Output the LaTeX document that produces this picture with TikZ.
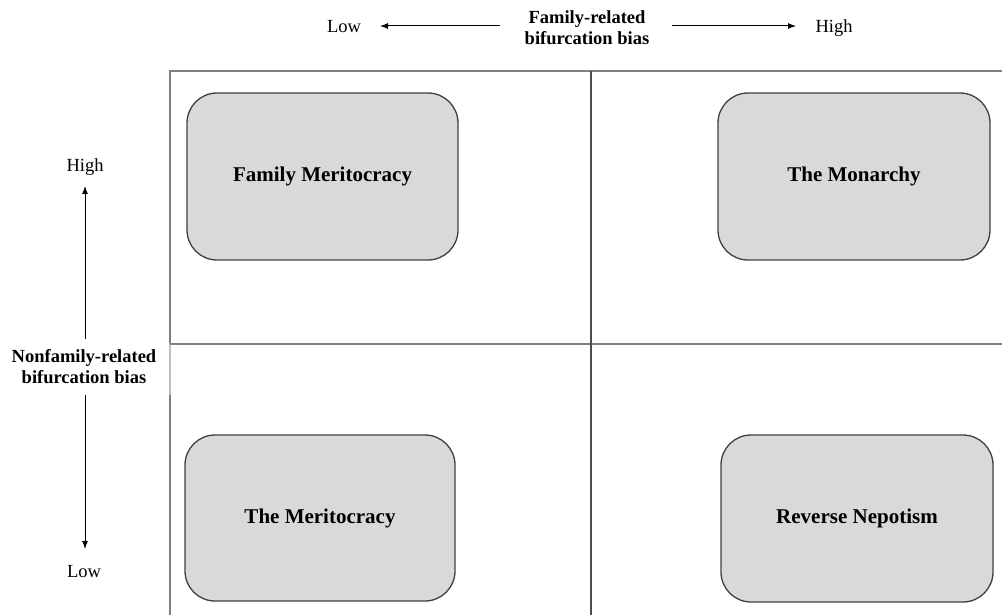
\documentclass[tikz,border=0pt]{standalone}
\usepackage{fontspec}
\setmainfont{Liberation Serif}
\usetikzlibrary{arrows.meta}
\begin{document}
\begin{tikzpicture}[x=1pt,y=-1pt,
  quad/.style={draw=black!75, line width=1.3pt, fill=black!15, rounded corners=30pt, inner sep=0pt},
  qlabel/.style={font=\fontsize{21}{25}\selectfont\bfseries},
  axlabel/.style={font=\fontsize{18.5}{22}\selectfont, inner sep=0pt},
  axtitle/.style={font=\fontsize{18.5}{21}\selectfont\bfseries, align=center, inner sep=0pt},
  grid/.style={draw=black!50, line width=2pt},
  axarrow/.style={-{Latex[length=8pt,width=6pt]}, line width=1pt, draw=black}]
\useasboundingbox (0,0) rectangle (1002,615);
% grid
\coordinate (TL) at (170,71);
\coordinate (TR) at (1002,71);
\coordinate (ML) at (170,344);
\coordinate (MR) at (1002,344);
\coordinate (MT) at (591,71);
\coordinate (MB) at (591,615);
\coordinate (G1) at (170,343);
\coordinate (G2) at (170,395);
\coordinate (BL) at (170,615);
\draw[grid] (TR) -- (TL) -- (G1);
\draw[draw=black!25, line width=1.5pt] (G1) -- (G2);
\draw[grid] (G2) -- (BL);
\draw[grid] (ML) -- (MR);
\draw[draw=black!70, line width=2pt] (MT) -- (MB);
% quadrant boxes
\node[quad, minimum width=271pt, minimum height=167pt] (fm) at (322.5,176.5) {};
\node[qlabel] at (fm.center) {Family Meritocracy};
\node[quad, minimum width=272pt, minimum height=167pt] (mon) at (854,176.5) {};
\node[qlabel] at (mon.center) {The Monarchy};
\node[quad, minimum width=270pt, minimum height=166pt] (mer) at (320,518) {};
\node[qlabel] at (mer.center) {The Meritocracy};
\node[quad, minimum width=272pt, minimum height=167pt] (rn) at (857,518.5) {};
\node[qlabel] at (rn.center) {Reverse Nepotism};
% top axis
\node[axtitle] (ttl) at (587,28) {Family-related\\bifurcation bias};
\node[axlabel] (tlow) at (344,27) {Low};
\node[axlabel] (thigh) at (834,28) {High};
\coordinate (ta1) at (500,26);
\coordinate (ta2) at (380,26);
\coordinate (ta3) at (672,26);
\coordinate (ta4) at (796,26);
\draw[axarrow] (ta1) -- (ta2);
\draw[axarrow] (ta3) -- (ta4);
% left axis
\node[axtitle] (ltl) at (84,367) {Nonfamily-related\\bifurcation bias};
\node[axlabel] (lhigh) at (85,167) {High};
\node[axlabel] (llow) at (84,572) {Low};
\coordinate (la1) at (85,339);
\coordinate (la2) at (85,186);
\coordinate (la3) at (85,395);
\coordinate (la4) at (85,549);
\draw[axarrow] (la1) -- (la2);
\draw[axarrow] (la3) -- (la4);
\end{tikzpicture}
\end{document}
